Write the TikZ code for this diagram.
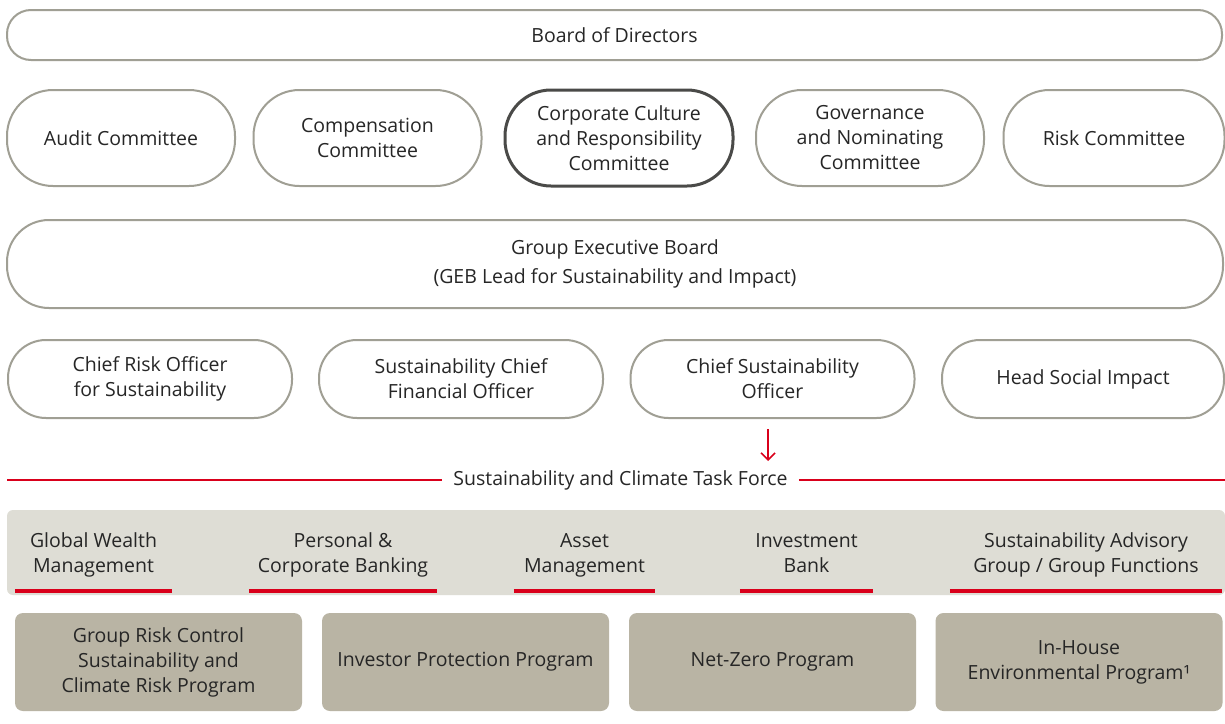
\documentclass[tikz,border=0pt]{standalone}
\usepackage{fontspec}
\setmainfont{Open Sans}
\usetikzlibrary{arrows.meta}
\definecolor{bordergrey}{HTML}{A09F94}
\definecolor{darkborder}{HTML}{4A4A48}
\definecolor{txt}{HTML}{262626}
\definecolor{bandgrey}{HTML}{DEDDD5}
\definecolor{taupe}{HTML}{B9B4A4}
\definecolor{ubsred}{HTML}{D9001B}
\tikzset{
  lbl/.style={font=\fontsize{19.5}{25}\selectfont, text=txt, align=center, inner sep=0pt},
  boardbox/.style={lbl, draw=bordergrey, line width=2pt, fill=white, rounded corners=24pt, minimum height=50pt, minimum width=1215pt},
  combox/.style={lbl, draw=bordergrey, line width=2pt, fill=white, rounded corners=46pt, minimum height=96pt, minimum width=228pt},
  ccbox/.style={combox, draw=darkborder, line width=3pt},
  gebbox/.style={lbl, draw=bordergrey, line width=2pt, fill=white, rounded corners=42pt, minimum height=88pt, minimum width=1216pt},
  offbox/.style={lbl, draw=bordergrey, line width=2pt, fill=white, rounded corners=38pt, minimum height=78pt, minimum width=284pt},
  tfnode/.style={lbl, fill=white, inner xsep=11pt, inner ysep=4pt},
  redline/.style={draw=ubsred, line width=1.5pt},
  redarrow/.style={draw=ubsred, line width=1.6pt, -{Straight Barb[length=7pt,width=14pt,line width=1.6pt]}},
  band/.style={fill=bandgrey, rounded corners=6pt},
  divlbl/.style={lbl, minimum height=72pt},
  redbar/.style={draw=ubsred, line width=4pt},
  progbox/.style={lbl, fill=taupe, rounded corners=8pt, minimum height=98pt, minimum width=287pt},
}
\begin{document}
\begin{tikzpicture}[x=1pt,y=-1pt]
\useasboundingbox[fill=white] (0,0) rectangle (1225,723);

\node[boardbox] (board) at (614.5,35) {Board of Directors};

\node[combox] (audit) at (121,138) {Audit Committee};
\node[combox] (comp) at (367.5,138) {Compensation\\Committee};
\node[ccbox] (ccr) at (619,138) {Corporate Culture\\and Responsibility\\Committee};
\node[combox] (gov) at (870,138) {Governance\\and Nominating\\Committee};
\node[combox, minimum width=221pt] (risk) at (1114,138) {Risk Committee};

\node[gebbox] (geb) at (615,264) {Group Executive Board\\[4pt](GEB Lead for Sustainability and Impact)};

\node[offbox] (cro) at (150,379) {Chief Risk Officer\\for Sustainability};
\node[offbox] (scfo) at (461,379) {Sustainability Chief\\Financial Officer};
\node[offbox] (cso) at (772.5,379) {Chief Sustainability\\Officer};
\node[offbox, minimum width=282pt] (hsi) at (1083,379) {Head Social Impact};

\node[tfnode] (tf) at (620.5,480) {Sustainability and Climate Task Force};
\coordinate (tfleft) at (7,480);
\coordinate (tfright) at (1225,480);
\coordinate (arrowend) at (768,461);
\draw[redline] (tfleft) -- (tf.west);
\draw[redline] (tf.east) -- (tfright);
\draw[redarrow] ([xshift=-4.5pt,yshift=-10pt]cso.south) -- (arrowend);

\fill[band] (7,510) rectangle (1225,595);
\node[divlbl, minimum width=157pt] (gwm) at (93.5,555) {Global Wealth\\Management};
\node[divlbl, minimum width=188pt] (pcb) at (343,555) {Personal \&\\Corporate Banking};
\node[divlbl, minimum width=141pt] (am) at (584.5,555) {Asset\\Management};
\node[divlbl, minimum width=133pt] (ib) at (806.5,555) {Investment\\Bank\vphantom{g}};
\node[divlbl, minimum width=272pt] (sag) at (1086,555) {Sustainability Advisory\\Group / Group Functions};
\foreach \n in {gwm,pcb,am,ib,sag}
  \draw[redbar] (\n.south west) -- (\n.south east);

\node[progbox] (grc) at (158.5,662) {Group Risk Control\\Sustainability and\\Climate Risk Program};
\node[progbox] (ipp) at (465.5,662) {Investor Protection Program};
\node[progbox] (nzp) at (772.5,662) {Net-Zero Program};
\node[progbox] (ihe) at (1079,662) {In-House\\Environmental Program¹};
\end{tikzpicture}
\end{document}
